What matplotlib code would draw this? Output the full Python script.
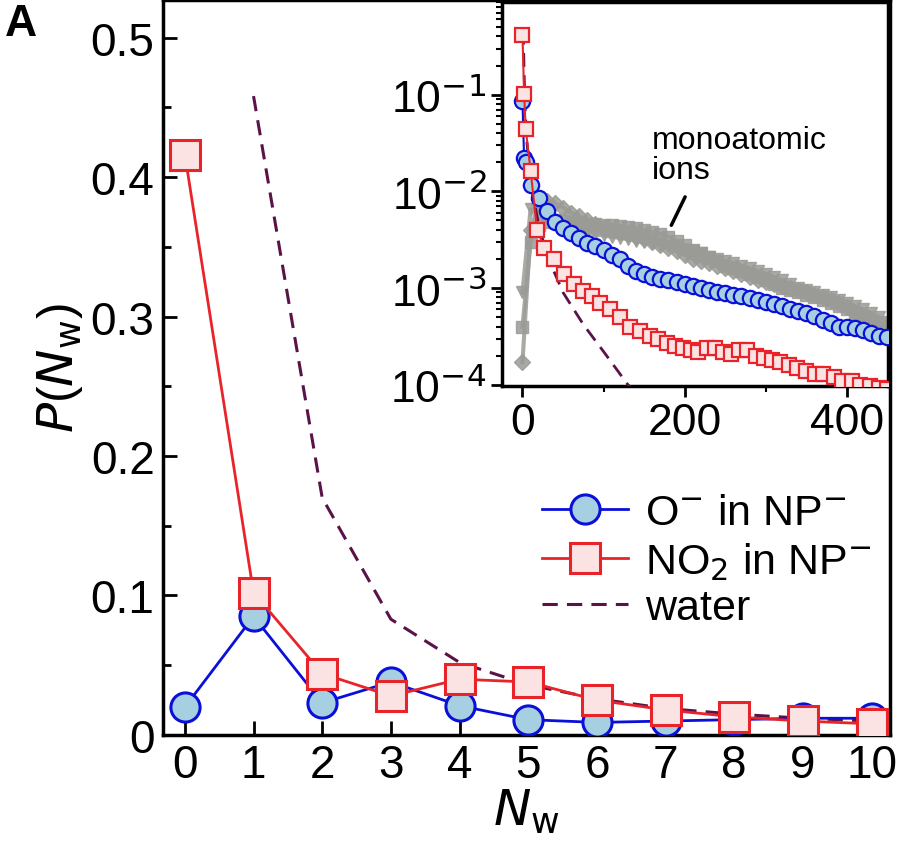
import matplotlib
matplotlib.use("Agg")
import matplotlib.pyplot as plt
from matplotlib.ticker import MultipleLocator, LogLocator, FixedLocator
import numpy as np

plt.rcParams["font.family"] = "Liberation Sans"

nw = [0, 1, 2, 3, 4, 5, 6, 7, 8, 9, 10]
o_main = [0.02, 0.085, 0.023, 0.038, 0.021, 0.011, 0.009, 0.010, 0.011, 0.012, 0.012]
no2_main = [0.416, 0.102, 0.044, 0.028, 0.040, 0.038, 0.025, 0.018, 0.013, 0.010, 0.008]
water_x = [1, 2, 3, 4, 5, 6, 7, 8, 9, 10, 10.5]
water_main = [0.458, 0.170, 0.083, 0.052, 0.036, 0.026, 0.019, 0.015, 0.012, 0.010, 0.0095]

o_in_x = [0, 2, 4, 10, 20, 30, 40, 50, 60, 70, 80, 90, 100, 110, 120, 130, 140, 150, 160, 170,
          180, 190, 200, 210, 220, 230, 240, 250, 260, 270, 280, 290, 300, 310, 320, 330, 340,
          350, 360, 370, 380, 390, 400, 410, 420, 430, 440, 450]
o_in = [0.085, 0.022, 0.02, 0.0115, 0.0085, 0.0062, 0.0048, 0.0042, 0.0037, 0.0033, 0.0029,
        0.0027, 0.0025, 0.0022, 0.002, 0.0017, 0.0015, 0.0014, 0.0013, 0.00125, 0.0012, 0.00115,
        0.0011, 0.00105, 0.001, 0.00096, 0.00092, 0.00088, 0.00085, 0.00082, 0.00079, 0.00076,
        0.00072, 0.00069, 0.00065, 0.00061, 0.00058, 0.00055, 0.00051, 0.00047, 0.00043, 0.0004,
        0.0004, 0.00039, 0.00037, 0.00034, 0.00032, 0.00031]
no2_in_x = [0, 2, 4, 10, 18, 27, 39, 51, 63, 75, 86, 96, 108, 120, 133, 145, 157, 167, 178, 188,
            198, 208, 216, 227, 237, 247, 257, 267, 277, 288, 298, 308, 318, 329, 339, 349, 361,
            371, 384, 394, 406, 416, 429, 439, 449]
no2_in = [0.416, 0.102, 0.044, 0.0164, 0.004, 0.0026, 0.002, 0.0014, 0.0011, 0.00093, 0.00082,
          0.0007, 0.0006, 0.0005, 0.0004, 0.00036, 0.00032, 0.0003, 0.00027, 0.00025, 0.00024,
          0.00023, 0.00022, 0.00024, 0.00024, 0.00022, 0.00021, 0.00023, 0.00023, 0.0002, 0.00019,
          0.00018, 0.00017, 0.00016, 0.00015, 0.00014, 0.00013, 0.00013, 0.00012, 0.00011, 0.00011,
          0.0001, 0.0000975, 0.000092, 0.00009]
water_in_x = [1, 2, 3, 5, 10, 20, 30, 50, 75, 100, 130, 150]
water_in = [0.458, 0.17, 0.083, 0.036, 0.012, 0.0045, 0.0022, 0.0009, 0.00042, 0.00022, 0.0001, 0.00007]

gray_x = list(range(0, 460, 10))
gray_sq = [0.0004, 0.003, 0.0045, 0.0048, 0.005, 0.0049, 0.0048, 0.0047, 0.0046, 0.0046,
           0.0045, 0.0045, 0.0044, 0.0043, 0.0042, 0.004, 0.0038, 0.0036, 0.0034, 0.0031,
           0.0028, 0.0025, 0.0023, 0.0021, 0.0019, 0.0017, 0.0016, 0.0015, 0.0014, 0.0013,
           0.0012, 0.0011, 0.001, 0.00095, 0.0009, 0.00085, 0.0008, 0.00075, 0.0007, 0.00065,
           0.0006, 0.00055, 0.0005, 0.00045, 0.0004, 0.00036]
gray_dia = [0.00017, 0.004, 0.0075, 0.008, 0.0075, 0.0068, 0.006, 0.0055, 0.005, 0.0046,
            0.0042, 0.004, 0.0038, 0.0036, 0.0034, 0.0032, 0.003, 0.0028, 0.0026, 0.0024,
            0.0022, 0.002, 0.0019, 0.0018, 0.0017, 0.0016, 0.0015, 0.0014, 0.0013, 0.0012,
            0.00115, 0.0011, 0.00105, 0.001, 0.00095, 0.0009, 0.00085, 0.0008, 0.00075, 0.0007,
            0.00063, 0.00055, 0.0005, 0.00045, 0.0004, 0.00033]
gray_tri = [0.0009, 0.0065, 0.006, 0.0055, 0.005, 0.0045, 0.0042, 0.004, 0.0038, 0.0036,
            0.0035, 0.0034, 0.0033, 0.0032, 0.0031, 0.003, 0.0029, 0.0028, 0.0027, 0.0026,
            0.0025, 0.0024, 0.0023, 0.0021, 0.002, 0.0019, 0.0018, 0.0017, 0.0016, 0.0015,
            0.0014, 0.0013, 0.0012, 0.0011, 0.001, 0.00095, 0.0009, 0.00085, 0.0008, 0.00075,
            0.0007, 0.00065, 0.0006, 0.00055, 0.0005, 0.00045]

blue_edge, blue_face = "#0a10d8", "#a6cfe2"
red_edge, red_face = "#e8242a", "#fbe3e3"
water_c = "#5a1248"
gray_c = "#9a9a96"

fig = plt.figure(figsize=(9, 8.45), dpi=100)
ax = fig.add_axes([0.181, 0.129, 0.808, 0.870])
ax.plot(water_x, water_main, "--", color=water_c, lw=2.2, dashes=(5, 3), label="water", zorder=2)
ax.plot(nw, o_main, "-o", color=blue_edge, mfc=blue_face, mec=blue_edge, ms=21, mew=2.2, lw=2,
        label="O$^{-}$ in NP$^{-}$", zorder=3)
ax.plot(nw, no2_main, "-s", color=red_edge, mfc=red_face, mec=red_edge, ms=21, mew=2.2, lw=2,
        label="NO$_2$ in NP$^{-}$", zorder=4)
ax.set_xlim(-0.32, 10.27)
ax.set_ylim(0, 0.527)
ax.set_xticks(nw)
ax.yaxis.set_major_locator(FixedLocator([0, 0.1, 0.2, 0.3, 0.4, 0.5]))
ax.set_yticklabels(["0", "0.1", "0.2", "0.3", "0.4", "0.5"])
ax.yaxis.set_minor_locator(MultipleLocator(0.05))
ax.tick_params(direction="in", labelsize=33, length=10, width=2, pad=6)
ax.tick_params(which="minor", direction="in", length=6, width=2)
for s in ax.spines.values():
    s.set_linewidth(2.5)
ax.set_xlabel("$N_{\\mathrm{w}}$", fontsize=36, labelpad=0)
ax.set_ylabel("$P$($N_{\\mathrm{w}}$)", fontsize=36, labelpad=4)
h, l = ax.get_legend_handles_labels()
ax.legend([h[1], h[2], h[0]], [l[1], l[2], l[0]], loc="lower right", bbox_to_anchor=(1.01, 0.11),
          frameon=False, fontsize=31, handlelength=2.0, handletextpad=0.4, labelspacing=0.15,
          borderaxespad=0.2)
fig.text(0.005, 0.995, "A", fontsize=32, fontweight="bold", va="top", ha="left")

ins = fig.add_axes([0.558, 0.542, 0.429, 0.454])
ins.set_yscale("log")
for ys, mk in [(gray_tri, "v"), (gray_dia, "D"), (gray_sq, "s")]:
    ins.plot(gray_x, ys, "-", marker=mk, color=gray_c, mfc=gray_c, mec=gray_c, ms=9 if mk != "D" else 8,
             lw=3, alpha=0.85, zorder=2)
ins.plot(water_in_x, water_in, "--", color=water_c, lw=2, dashes=(5, 3), zorder=3)
ins.plot(o_in_x, o_in, "-o", color=blue_edge, mfc=blue_face, mec=blue_edge, ms=11, mew=1.6, lw=1.5, zorder=4)
ins.plot(no2_in_x, no2_in, "-s", color=red_edge, mfc=red_face, mec=red_edge, ms=10, mew=1.6, lw=1.5, zorder=5)
ins.set_xlim(-25, 451)
ins.set_ylim(0.97e-4, 0.9)
ins.set_xticks([0, 200, 400])
ins.xaxis.set_minor_locator(MultipleLocator(100))
ins.yaxis.set_major_locator(FixedLocator([1e-4, 1e-3, 1e-2, 1e-1]))
ins.set_yticklabels(["10$^{-4}$", "10$^{-3}$", "10$^{-2}$", "10$^{-1}$"])
ins.yaxis.set_minor_locator(LogLocator(subs=np.arange(2, 10)))
ins.yaxis.set_minor_formatter(plt.NullFormatter())
ins.tick_params(direction="out", labelsize=32, length=8, width=2)
ins.tick_params(which="minor", direction="out", length=4, width=1.5)
for s in ins.spines.values():
    s.set_linewidth(2.5)
ins.text(160, 0.0115, "monoatomic\nions", fontsize=23, ha="left", va="bottom", linespacing=1.0)
ins.annotate("", xy=(182, 0.0042), xytext=(202, 0.0093),
             arrowprops=dict(arrowstyle="-", lw=2.5, color="black"))

fig.savefig("out.png", dpi=100)
